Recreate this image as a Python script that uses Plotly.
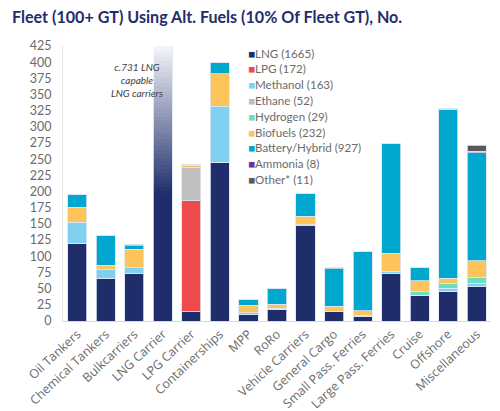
import numpy as np
import plotly.graph_objects as go

# ship types on the x axis
categories = [
	'Oil Tankers', 'Chemical Tankers', 'Bulkcarriers', 'LNG Carrier',
	'LPG Carrier', 'Containerships', 'MPP', 'RoRo', 'Vehicle Carriers',
	'General Cargo', 'Small Pass. Ferries', 'Large Pass. Ferries',
	'Cruise', 'Offshore', 'Miscellaneous',
]

# fleet counts per fuel
lng      = [120, 66, 74, 731, 14, 245, 10, 18, 147, 14, 7, 74, 39, 46, 53]
lpg      = [0, 0, 0, 0, 172, 0, 0, 0, 0, 0, 0, 0, 0, 0, 0]
methanol = [33, 13, 8, 0, 0, 87, 3, 2, 2, 1, 0, 3, 1, 5, 5]
ethane   = [0, 0, 0, 0, 52, 0, 0, 0, 0, 0, 0, 0, 0, 0, 0]
hydrogen = [0, 0, 0, 0, 0, 0, 0, 0, 0, 0, 2, 0, 5, 7, 10]
biofuels = [23, 7, 29, 0, 3, 50, 11, 6, 13, 8, 7, 28, 17, 8, 25]
battery  = [20, 46, 5, 0, 0, 17, 10, 24, 35, 58, 92, 170, 21, 261, 167]
ammonia  = [0, 0, 3, 0, 1, 0, 0, 0, 0, 0, 0, 0, 0, 2, 2]
other    = [0, 0, 0, 0, 0, 0, 0, 0, 0, 1, 0, 0, 0, 0, 10]

series = [
	('LNG (1665)', lng, '#1f2d6b'),
	('LPG (172)', lpg, '#f04b4c'),
	('Methanol (163)', methanol, '#80d0f0'),
	('Ethane (52)', ethane, '#bfbfbf'),
	('Hydrogen (29)', hydrogen, '#6ddcc0'),
	('Biofuels (232)', biofuels, '#fdc45b'),
	('Battery/Hybrid (927)', battery, '#00a8cf'),
	('Ammonia (8)', ammonia, '#7030a0'),
	('Other* (11)', other, '#595959'),
]

# LNG carrier bar runs off the chart, shown fading out
FADE_START = 195
FADE_END = 425
FADE_STEPS = 40

FONT = 'Lato'
GREY = '#6b6b6b'

# plot area in pixels (used to place the hand-made legend)
W, H = 500, 411
M_L, M_R, M_T, M_B = 63, 9, 46, 90
PLOT_W = W - M_L - M_R
PLOT_H = H - M_T - M_B

fig = go.Figure()

for name, vals, color in series:
	fig.add_trace(go.Bar(
		name=name,
		x=categories,
		y=vals,
		marker=dict(color=color, line=dict(color='#dce6f2', width=0.8)),
		showlegend=False,
	))

# fade overlay on a hidden twin axis so it does not stack with the data
fig.add_trace(go.Bar(
	x=['LNG Carrier'], y=[FADE_START], yaxis='y2', showlegend=False,
	marker=dict(color='rgba(255,255,255,0)', line=dict(width=0)),
	hoverinfo='skip',
))
edges = np.linspace(FADE_START, FADE_END, FADE_STEPS + 1)
for i in range(FADE_STEPS):
	a = ((i + 0.5) / FADE_STEPS) * 0.96
	fig.add_trace(go.Bar(
		x=['LNG Carrier'], y=[edges[i + 1] - edges[i]], yaxis='y2',
		showlegend=False, hoverinfo='skip',
		marker=dict(color=f'rgba(255,255,255,{a:.3f})', line=dict(width=0)),
	))

# legend drawn as annotations to get the tight row spacing
LEG_X = 246
LEG_Y0 = 53
LEG_STEP = 15.8
for i, (name, vals, color) in enumerate(series):
	y_px = LEG_Y0 + LEG_STEP * i
	fig.add_annotation(
		text=f'<span style="color:{color}">■</span>{name}',
		x=(LEG_X - M_L) / PLOT_W, xref='paper', xanchor='left',
		y=(H - M_B - y_px) / PLOT_H, yref='paper', yanchor='middle',
		showarrow=False,
		font=dict(family=FONT, size=11.6, color=GREY),
	)

fig.update_layout(
	barmode='stack',
	bargap=0.33,
	width=W,
	height=H,
	margin=dict(l=M_L, r=M_R, t=M_T, b=M_B),
	plot_bgcolor='white',
	paper_bgcolor='white',
	font=dict(family=FONT, color=GREY, size=12),
	title=dict(
		text='<b>Fleet (100+ GT) Using Alt. Fuels (10% Of Fleet GT), No.</b>',
		x=0.024, xref='container', xanchor='left',
		y=0.958, yref='container', yanchor='middle',
		font=dict(family=FONT, size=16.1, color='#1f2d6b'),
	),
	showlegend=False,
)

fig.update_xaxes(
	tickangle=-43,
	automargin=False,
	showline=True, linecolor='#d9d9d9', linewidth=1,
	tickfont=dict(family='Open Sans', size=12.5, color=GREY),
)
fig.update_layout(
	yaxis=dict(
		range=[0, 425], dtick=25, showgrid=False,
		automargin=False,
		showline=True, linecolor='#e6e6e6', linewidth=1,
		tickfont=dict(family=FONT, size=12.5, color=GREY),
		ticklen=0,
		ticklabelstandoff=8,
	),
	yaxis2=dict(
		range=[0, 425], overlaying='y', visible=False,
	),
)

fig.add_annotation(
	text='<i>c.731 LNG<br>capable<br>LNG carriers</i>',
	x=0.108, xref='paper', y=372, yref='y',
	showarrow=False,
	font=dict(family=FONT, size=10, color='#404040'),
)

# drop the browser's default body margin so the figure sits at the page corner
fig.write_html(
	'out.html',
	config={'displayModeBar': False},
	post_script="document.body.style.margin='0';",
)
